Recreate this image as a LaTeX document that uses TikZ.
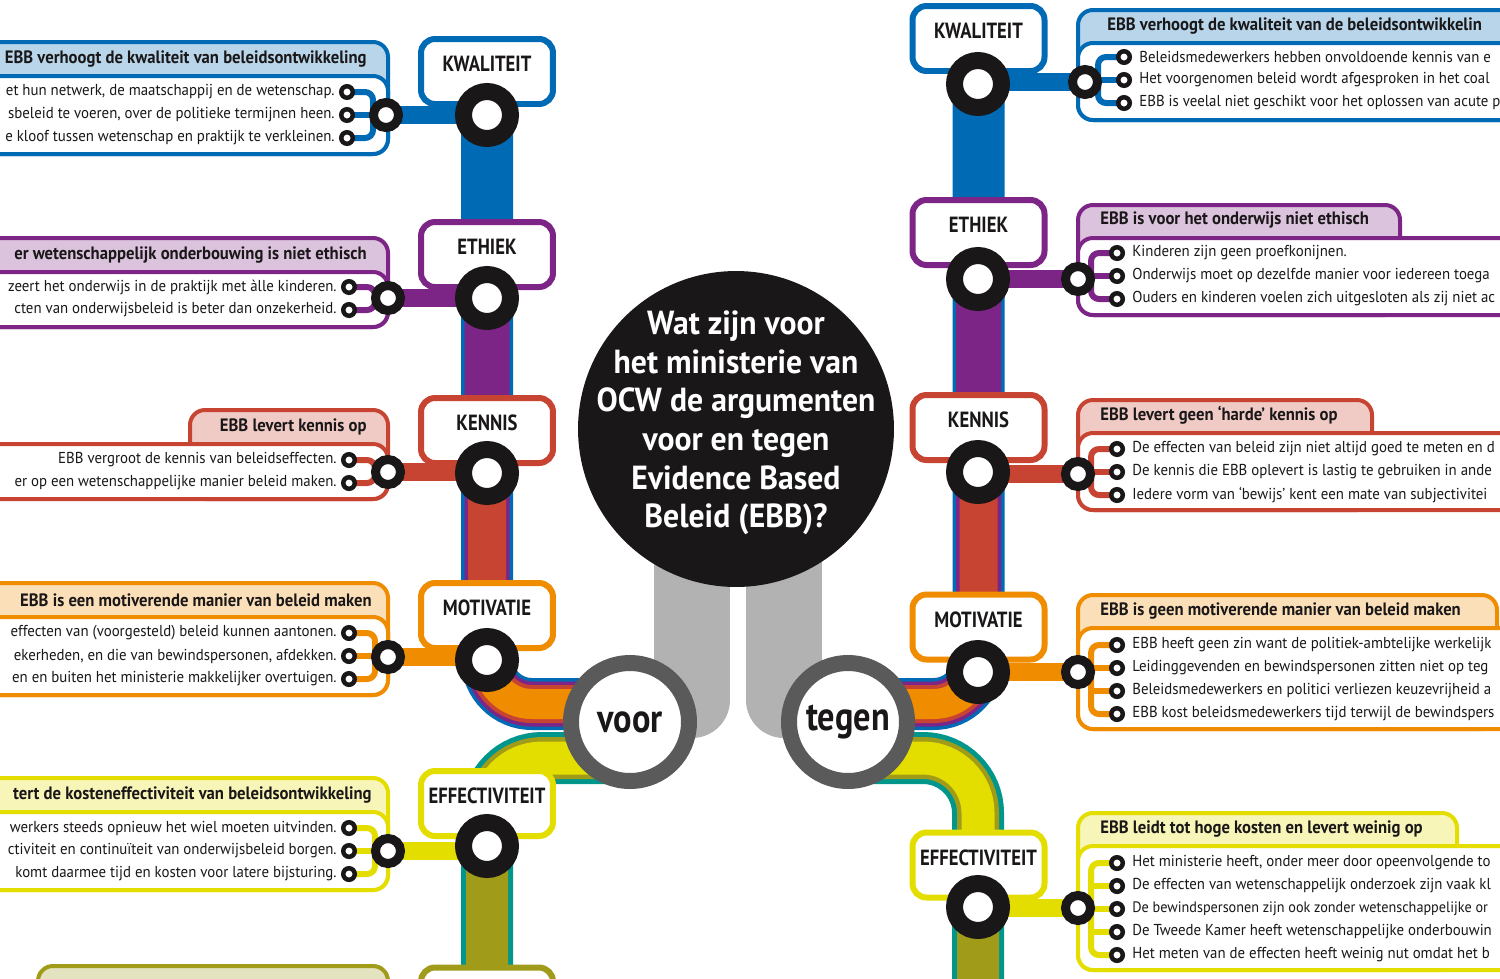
\documentclass[tikz,border=0pt]{standalone}
\usepackage{fontspec}
\setmainfont{PT Sans}
\newfontfamily\condfont{PT Sans}[FakeStretch=0.85]
\newfontfamily\headfont{PT Sans}[FakeStretch=0.93]
\newfontfamily\questfont{PT Sans}[FakeStretch=0.95]
\newfontfamily\narrowfont{PT Sans}[FakeStretch=0.94]
\usepackage{tikz}
\usetikzlibrary{positioning,calc}
\definecolor{cblue}{RGB}{0,106,180}
\definecolor{cpurple}{RGB}{125,37,135}
\definecolor{cred}{RGB}{200,68,50}
\definecolor{corange}{RGB}{240,140,0}
\definecolor{cyellow}{RGB}{228,222,0}
\definecolor{colive}{RGB}{160,155,25}
\definecolor{cteal}{RGB}{0,150,140}
\definecolor{cgray}{RGB}{178,178,178}
\definecolor{cdark}{RGB}{90,90,90}
\definecolor{cink}{RGB}{26,23,24}
\pgfdeclarelayer{panels}
\pgfdeclarelayer{lines}
\pgfsetlayers{panels,lines,main}

\begin{document}
\begin{tikzpicture}[x=0.02cm,y=-0.02cm,
  rail/.style={draw=#1,rounded corners=0.9cm},
  lowrail/.style={draw=#1,rounded corners=1.1cm},
  stub/.style={draw=#1,line width=0.36cm},
  twig/.style={draw=#1,line width=0.12cm,rounded corners=0.16cm},
  tab/.style={draw=#1,fill=#1!28,line width=0.08cm,rounded corners=0.3cm},
  sheet/.style={draw=#1,fill=white,line width=0.08cm,rounded corners=0.3cm},
  grail/.style={draw=cgray,line width=1.52cm,line cap=round},
  stop/.style={draw=#1,fill=white,line width=0.12cm,rounded corners=0.28cm,
               minimum width=2.64cm,minimum height=1.3cm,inner sep=0pt,
               text height=8pt,text depth=8pt,text=cink,
               font=\condfont\bfseries\fontsize{12.5}{13}\selectfont},
  station/.style={circle,draw=cink,fill=white,line width=0.34cm,minimum size=0.94cm,inner sep=0pt},
  hub/.style={circle,draw=cink,fill=white,line width=0.18cm,minimum size=0.5cm,inner sep=0pt},
  dot/.style={circle,draw=cink,fill=white,line width=0.09cm,minimum size=0.23cm,inner sep=0pt},
  quest/.style={circle,fill=cink,minimum size=6.32cm,inner sep=0pt},
  questtext/.style={inner sep=0pt,align=center,text=white,
                    font=\questfont\bfseries\fontsize{19}{22}\selectfont},
  side/.style={circle,draw=cdark,fill=white,line width=0.32cm,minimum size=2.36cm,inner sep=0pt,
               text=cink,font=\condfont\bfseries\fontsize{23}{23}\selectfont},
  head/.style={inner sep=0pt,text=cink,font=\headfont\bfseries\fontsize{10.2}{12}\selectfont},
  item/.style={inner sep=0pt,text=cink,font=\narrowfont\fontsize{9}{11}\selectfont}
]
\useasboundingbox (0,0) rectangle (1500,978);

\begin{pgfonlayer}{panels}
\draw[tab=cblue] (-30,42) rectangle (388,154);
\draw[sheet=cblue] (-30,76) rectangle (388,154);
\draw[tab=cpurple] (-30,238) rectangle (388,327);
\draw[sheet=cpurple] (-30,272) rectangle (388,327);
\draw[tab=cred] (190,410) rectangle (388,499);
\draw[sheet=cred] (-30,444) rectangle (388,499);
\draw[tab=corange] (-30,583) rectangle (388,695);
\draw[sheet=corange] (-30,617) rectangle (388,695);
\draw[tab=cyellow] (-30,778) rectangle (388,890);
\draw[sheet=cyellow] (-30,812) rectangle (388,890);
\draw[tab=colive] (38,966) rectangle (388,1060);
\draw[tab=cblue] (1078,10) rectangle (1530,120);
\draw[sheet=cblue] (1078,43) rectangle (1530,120);
\draw[tab=cpurple] (1078,205) rectangle (1400,315);
\draw[sheet=cpurple] (1078,238) rectangle (1530,315);
\draw[tab=cred] (1078,400) rectangle (1372,510);
\draw[sheet=cred] (1078,433) rectangle (1530,510);
\draw[tab=corange] (1078,595) rectangle (1497,729);
\draw[sheet=corange] (1078,628) rectangle (1530,729);
\draw[tab=cyellow] (1078,813) rectangle (1457,970);
\draw[sheet=cyellow] (1078,846) rectangle (1530,970);
\end{pgfonlayer}

\node[quest] (q) at (736,429) {};
\node[questtext] (qt) at (736,423) {Wat zijn voor\\het ministerie van\\OCW de argumenten\\voor en tegen\\Evidence Based\\Beleid (EBB)?};
\node[side] (voor) at (630,722) {voor};
\node[side] (tegen) at (848,722) {tegen};
\coordinate (vU) at (630,704);
\coordinate (vL) at (630,758);
\coordinate (tU) at (848,704);
\coordinate (tL) at (848,758);
\coordinate (lend) at (487,1010);
\coordinate (rend) at (978,1010);
\coordinate (gl1) at (692,520);
\coordinate (gl2) at (692,700);
\coordinate (gr1) at (784,520);
\coordinate (gr2) at (784,700);

\node[stop=cblue] (lkwbox) at (487,71.5) {KWALITEIT};
\node[stop=cpurple] (letbox) at (487,254.5) {ETHIEK};
\node[stop=cred] (lkebox) at (487,430.5) {KENNIS};
\node[stop=corange] (lmobox) at (487,615.5) {MOTIVATIE};
\node[stop=cyellow] (lefbox) at (487,803.5) {EFFECTIVITEIT};
\node[stop=colive] (lnxbox) at (487,1000) {};
\node[stop=cblue] (rkwbox) at (978.5,38.5) {KWALITEIT};
\node[stop=cpurple] (retbox) at (978.5,232.5) {ETHIEK};
\node[stop=cred] (rkebox) at (978.5,427.5) {KENNIS};
\node[stop=corange] (rmobox) at (978.5,627) {MOTIVATIE};
\node[stop=cyellow] (refbox) at (978.5,865) {EFFECTIVITEIT};

\node[station] (lkw) at (487,115) {};
\node[station] (let) at (487,298) {};
\node[station] (lke) at (487,473) {};
\node[station] (lmo) at (487,660) {};
\node[station] (lef) at (487,846) {};
\node[station] (rkw) at (978,84) {};
\node[station] (ret) at (978,279) {};
\node[station] (rke) at (978,472) {};
\node[station] (rmo) at (978,672) {};
\node[station] (ref) at (978,907) {};

\node[hub] (lkwm) at (386,115) {};
\node[hub] (letm) at (388,298) {};
\node[hub] (lkem) at (388,472) {};
\node[hub] (lmom) at (388,657) {};
\node[hub] (lefm) at (388,851) {};
\node[hub] (rkwm) at (1085,82) {};
\node[hub] (retm) at (1078,279) {};
\node[hub] (rkem) at (1078,474) {};
\node[hub] (rmom) at (1078,672) {};
\node[hub] (refm) at (1078,908) {};
\coordinate (lkwk) at ([xshift=-0.26cm]lkwm.center);
\coordinate (letk) at ([xshift=-0.26cm]letm.center);
\coordinate (lkek) at ([xshift=-0.26cm]lkem.center);
\coordinate (lmok) at ([xshift=-0.26cm]lmom.center);
\coordinate (lefk) at ([xshift=-0.26cm]lefm.center);
\coordinate (rkwk) at ([xshift=0.26cm]rkwm.center);
\coordinate (retk) at ([xshift=0.26cm]retm.center);
\coordinate (rkek) at ([xshift=0.26cm]rkem.center);
\coordinate (rmok) at ([xshift=0.26cm]rmom.center);
\coordinate (refk) at ([xshift=0.26cm]refm.center);

\foreach \n/\y in {1/92,2/115,3/138} \node[dot] (lkw\n) at (347,\y) {};
\foreach \n/\y in {1/287,2/310} \node[dot] (let\n) at (349,\y) {};
\foreach \n/\y in {1/460,2/483} \node[dot] (lke\n) at (349,\y) {};
\foreach \n/\y in {1/633,2/656,3/679} \node[dot] (lmo\n) at (349,\y) {};
\foreach \n/\y in {1/828,2/851,3/874} \node[dot] (lef\n) at (349,\y) {};
\foreach \n/\y in {1/57,2/80,3/103} \node[dot] (rkw\n) at (1124,\y) {};
\foreach \n/\y in {1/253,2/276,3/299} \node[dot] (ret\n) at (1117,\y) {};
\foreach \n/\y in {1/449,2/472,3/495} \node[dot] (rke\n) at (1117,\y) {};
\foreach \n/\y in {1/645,2/668,3/691,4/714} \node[dot] (rmo\n) at (1117,\y) {};
\foreach \n/\y in {1/863,2/886,3/909,4/932,5/955} \node[dot] (ref\n) at (1117,\y) {};

\node[head,anchor=east] (lkwh) at (367,59) {EBB verhoogt de kwaliteit van beleidsontwikkeling};
\node[item,anchor=east] (lkwt1) at (335,92) {et hun netwerk, de maatschappij en de wetenschap.};
\node[item,anchor=east] (lkwt2) at (335,115) {sbeleid te voeren, over de politieke termijnen heen.};
\node[item,anchor=east] (lkwt3) at (335,138) {e kloof tussen wetenschap en praktijk te verkleinen.};
\node[head,anchor=east] (leth) at (367,255) {er wetenschappelijk onderbouwing is niet ethisch};
\node[item,anchor=east] (lett1) at (337,287) {zeert het onderwijs in de praktijk met àlle kinderen.};
\node[item,anchor=east] (lett2) at (337,310) {cten van onderwijsbeleid is beter dan onzekerheid.};
\node[head,anchor=east] (lkeh) at (367,427) {EBB levert kennis op};
\node[item,anchor=east] (lket1) at (337,460) {EBB vergroot de kennis van beleidseffecten.};
\node[item,anchor=east] (lket2) at (337,483) {er op een wetenschappelijke manier beleid maken.};
\node[head,anchor=east] (lmoh) at (372,600) {EBB is een motiverende manier van beleid maken};
\node[item,anchor=east] (lmot1) at (337,633) {effecten van (voorgesteld) beleid kunnen aantonen.};
\node[item,anchor=east] (lmot2) at (337,656) {ekerheden, en die van bewindspersonen, afdekken.};
\node[item,anchor=east] (lmot3) at (337,679) {en en buiten het ministerie makkelijker overtuigen.};
\node[head,anchor=east] (lefh) at (372,795) {tert de kosteneffectiviteit van beleidsontwikkeling};
\node[item,anchor=east] (left1) at (337,828) {werkers steeds opnieuw het wiel moeten uitvinden.};
\node[item,anchor=east] (left2) at (337,851) {ctiviteit en continuïteit van onderwijsbeleid borgen.};
\node[item,anchor=east] (left3) at (337,874) {komt daarmee tijd en kosten voor latere bijsturing.};

\node[head,anchor=west] (rkwh) at (1107,26) {EBB verhoogt de kwaliteit van de beleidsontwikkelin};
\node[item,anchor=west] (rkwt1) at (1139,57) {Beleidsmedewerkers hebben onvoldoende kennis van e};
\node[item,anchor=west] (rkwt2) at (1139,80) {Het voorgenomen beleid wordt afgesproken in het coal};
\node[item,anchor=west] (rkwt3) at (1139,103) {EBB is veelal niet geschikt voor het oplossen van acute p};
\node[head,anchor=west] (reth) at (1100,220) {EBB is voor het onderwijs niet ethisch};
\node[item,anchor=west] (rett1) at (1132,253) {Kinderen zijn geen proefkonijnen.};
\node[item,anchor=west] (rett2) at (1132,276) {Onderwijs moet op dezelfde manier voor iedereen toega};
\node[item,anchor=west] (rett3) at (1132,299) {Ouders en kinderen voelen zich uitgesloten als zij niet ac};
\node[head,anchor=west] (rkeh) at (1100,415) {EBB levert geen ‘harde’ kennis op};
\node[item,anchor=west] (rket1) at (1132,449) {De effecten van beleid zijn niet altijd goed te meten en d};
\node[item,anchor=west] (rket2) at (1132,472) {De kennis die EBB oplevert is lastig te gebruiken in ande};
\node[item,anchor=west] (rket3) at (1132,495) {Iedere vorm van ‘bewijs’ kent een mate van subjectivitei};
\node[head,anchor=west] (rmoh) at (1100,611) {EBB is geen motiverende manier van beleid maken};
\node[item,anchor=west] (rmot1) at (1132,645) {EBB heeft geen zin want de politiek-ambtelijke werkelijk};
\node[item,anchor=west] (rmot2) at (1132,668) {Leidinggevenden en bewindspersonen zitten niet op teg};
\node[item,anchor=west] (rmot3) at (1132,691) {Beleidsmedewerkers en politici verliezen keuzevrijheid a};
\node[item,anchor=west] (rmot4) at (1132,714) {EBB kost beleidsmedewerkers tijd terwijl de bewindspers};
\node[head,anchor=west] (refh) at (1100,829) {EBB leidt tot hoge kosten en levert weinig op};
\node[item,anchor=west] (reft1) at (1132,863) {Het ministerie heeft, onder meer door opeenvolgende to};
\node[item,anchor=west] (reft2) at (1132,886) {De effecten van wetenschappelijk onderzoek zijn vaak kl};
\node[item,anchor=west,font=\narrowfont\fontsize{8.6}{11}\selectfont] (reft3) at (1132,909) {De bewindspersonen zijn ook zonder wetenschappelijke or};
\node[item,anchor=west] (reft4) at (1132,932) {De Tweede Kamer heeft wetenschappelijke onderbouwin};
\node[item,anchor=west] (reft5) at (1132,955) {Het meten van de effecten heeft weinig nut omdat het b};

\begin{pgfonlayer}{lines}
\draw[grail] (gl1) -- (gl2);
\draw[grail] (gr1) -- (gr2);
\draw[rail=cblue,line width=1.04cm] (lkwbox.center) |- (vU);
\draw[rail=cpurple,line width=0.9cm] (letbox.center) |- (vU);
\draw[rail=cred,line width=0.76cm] (lkebox.center) |- (vU);
\draw[rail=corange,line width=0.6cm] (lmobox.center) |- (vU);
\draw[rail=cblue,line width=1.04cm] (tU) -| (rkwbox.center);
\draw[rail=cpurple,line width=0.9cm] (tU) -| (retbox.center);
\draw[rail=cred,line width=0.76cm] (tU) -| (rkebox.center);
\draw[rail=corange,line width=0.6cm] (tU) -| (rmobox.center);
\draw[lowrail=cteal,line width=1.04cm] (vL) -| (lend);
\draw[lowrail=colive,line width=0.84cm] (vL) -| (lend);
\draw[lowrail=cyellow,line width=0.66cm] (vL) -| (lef.center);
\draw[lowrail=cteal,line width=1.04cm] (tL) -| (rend);
\draw[lowrail=colive,line width=0.84cm] (tL) -| (rend);
\draw[lowrail=cyellow,line width=0.66cm] (tL) -| (ref.center);
\draw[stub=cblue] (lkwm.center) -- (lkwm.center -| lkw.center);
\draw[stub=cpurple] (letm.center) -- (letm.center -| let.center);
\draw[stub=cred] (lkem.center) -- (lkem.center -| lke.center);
\draw[stub=corange] (lmom.center) -- (lmom.center -| lmo.center);
\draw[stub=cyellow] (lefm.center) -- (lefm.center -| lef.center);
\draw[stub=cblue] (rkwm.center) -- (rkwm.center -| rkw.center);
\draw[stub=cpurple] (retm.center) -- (retm.center -| ret.center);
\draw[stub=cred] (rkem.center) -- (rkem.center -| rke.center);
\draw[stub=corange] (rmom.center) -- (rmom.center -| rmo.center);
\draw[stub=cyellow] (refm.center) -- (refm.center -| ref.center);
\draw[twig=cblue] (lkw1.center) -| (lkwk) |- (lkw3.center);
\draw[twig=cblue] (lkw2.center) -- (lkw2.center -| lkwk);
\draw[twig=cpurple] (let1.center) -| (letk) |- (let2.center);
\draw[twig=cred] (lke1.center) -| (lkek) |- (lke2.center);
\draw[twig=corange] (lmo1.center) -| (lmok) |- (lmo3.center);
\draw[twig=corange] (lmo2.center) -- (lmo2.center -| lmok);
\draw[twig=cyellow] (lef1.center) -| (lefk) |- (lef3.center);
\draw[twig=cyellow] (lef2.center) -- (lef2.center -| lefk);
\draw[twig=cblue] (rkw1.center) -| (rkwk) |- (rkw3.center);
\draw[twig=cblue] (rkw2.center) -- (rkw2.center -| rkwk);
\draw[twig=cpurple] (ret1.center) -| (retk) |- (ret3.center);
\draw[twig=cpurple] (ret2.center) -- (ret2.center -| retk);
\draw[twig=cred] (rke1.center) -| (rkek) |- (rke3.center);
\draw[twig=cred] (rke2.center) -- (rke2.center -| rkek);
\draw[twig=corange] (rmo1.center) -| (rmok) |- (rmo4.center);
\draw[twig=corange] (rmo2.center) -- (rmo2.center -| rmok);
\draw[twig=corange] (rmo3.center) -- (rmo3.center -| rmok);
\draw[twig=cyellow] (ref1.center) -| (refk) |- (ref5.center);
\draw[twig=cyellow] (ref2.center) -- (ref2.center -| refk);
\draw[twig=cyellow] (ref3.center) -- (ref3.center -| refk);
\draw[twig=cyellow] (ref4.center) -- (ref4.center -| refk);
\end{pgfonlayer}
\end{tikzpicture}
\end{document}
